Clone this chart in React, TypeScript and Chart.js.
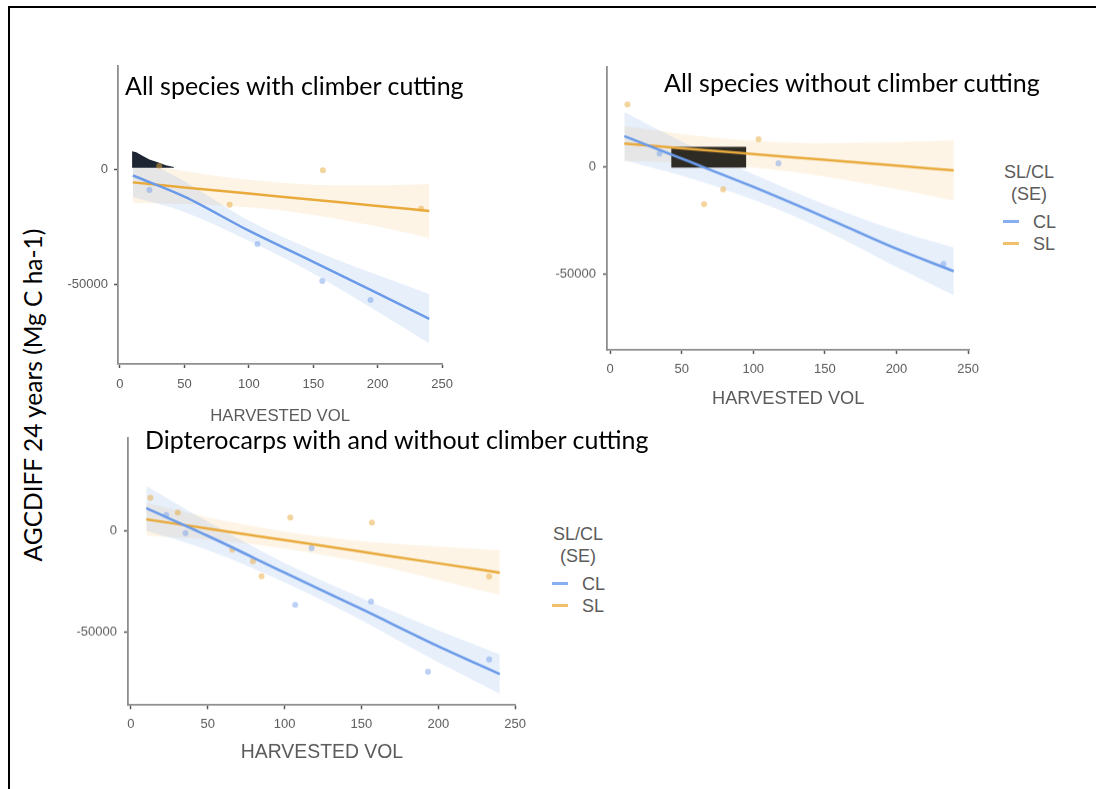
import React, { useEffect, useRef } from 'react';
import { Chart, registerables } from 'chart.js';
Chart.register(...registerables);

// ---------- shared ----------
const FIT_X = [10, 50, 100, 150, 200, 240];
const X_TICKS = [0, 50, 100, 150, 200, 250];
const Y_TICKS = [0, -50000];
const X_TITLE = 'HARVESTED VOL';
const Y_TITLE = 'AGCDIFF 24 years (Mg C ha-1)';
const LEGEND_TITLE = ['SL/CL', '(SE)'];
const LEGEND_ITEMS = ['CL', 'SL'];

// ---------- Panel A: All species with climber cutting ----------
const A_TITLE = 'All species with climber cutting';
const A_CL_X = [22.9, 106.7, 157, 194.4];
const A_CL_Y = [-8900, -32500, -48700, -57000];
const A_SL_X = [30.5, 85.1, 157.5, 233.7];
const A_SL_Y = [1600, -15400, -300, -17100];
const A_CL_FIT = [-2600, -11800, -26700, -40300, -54100, -65200];
const A_CL_UP = [6800, -5100, -22300, -35200, -46100, -54400];
const A_CL_LO = [-12000, -18500, -31100, -45400, -62100, -76000];
const A_SL_FIT = [-5600, -7800, -10500, -13200, -15900, -18100];
const A_SL_UP = [3400, -600, -4500, -6600, -6900, -6300];
const A_SL_LO = [-14600, -15000, -16500, -19800, -24900, -29900];
const A_MASK_X = [9.4, 12.7, 17.8, 22.9, 30.5, 35.6, 41.9];
const A_MASK_Y = [8000, 7600, 5900, 4400, 3000, 1900, 1100];
const A_MASK_BASE = 800;

// ---------- Panel B: All species without climber cutting ----------
const B_TITLE = 'All species without climber cutting';
const B_CL_X = [34.6, 117.6, 232.8];
const B_CL_Y = [6100, 1500, -45400];
const B_SL_X = [12.2, 65.7, 79, 103.7];
const B_SL_Y = [29000, -17600, -10700, 12700];
const B_CL_FIT = [14200, 3700, -9500, -23700, -38400, -48900];
const B_CL_UP = [25500, 11700, -3500, -17700, -29900, -37800];
const B_CL_LO = [2900, -4300, -15500, -29700, -46900, -60000];
const B_SL_FIT = [10700, 8500, 5800, 3100, 400, -1800];
const B_SL_UP = [18900, 15200, 12000, 10900, 11400, 12300];
const B_SL_LO = [2500, 1800, -400, -4700, -10600, -15900];
const B_MASK_X = [42.7, 95.2];
const B_MASK_Y = [9200, 9200];
const B_MASK_BASE = -500;

// ---------- Panel C: Dipterocarps ----------
const C_TITLE = 'Dipterocarps with and without climber cutting';
const C_CL_X = [23, 35.5, 106.9, 117.6, 156.3, 193.3, 233.1];
const C_CL_Y = [7600, -1300, -36500, -8600, -34900, -69400, -63400];
const C_SL_X = [12.7, 30.5, 66, 79.4, 85, 103.7, 156.8, 233.1];
const C_SL_Y = [16100, 8900, -9400, -15000, -22400, 6400, 3900, -22600];
const C_CL_FIT = [11000, -2600, -20700, -38600, -56900, -70600];
const C_CL_UP = [22000, 4400, -15900, -33100, -49100, -60900];
const C_CL_LO = [0, -9600, -25500, -44100, -64800, -80300];
const C_SL_FIT = [5500, 1000, -4700, -10400, -16100, -20700];
const C_SL_UP = [13500, 6500, -500, -5200, -7900, -9700];
const C_SL_LO = [-2500, -4500, -8900, -15600, -24300, -31700];

// ---------- styles ----------
const BLUE = '#6a9ae8';
const ORANGE = '#e9aa3c';
const BLUE_BAND = 'rgba(106,154,232,0.16)';
const ORANGE_BAND = 'rgba(240,178,78,0.15)';
const BLUE_PT = 'rgba(106,154,232,0.45)';
const ORANGE_PT = 'rgba(233,170,60,0.5)';
const AXIS_TEXT = '#5b5b5b';
const TICK_FONT = 'Liberation Sans, Arial, sans-serif';
const TITLE_FONT = 'Lato, "Open Sans", sans-serif';

const pts = (xs: number[], ys: number[]) => xs.map((x, i) => ({ x, y: ys[i] }));

type PanelData = {
  clX: number[]; clY: number[]; slX: number[]; slY: number[];
  clFit: number[]; clUp: number[]; clLo: number[];
  slFit: number[]; slUp: number[]; slLo: number[];
  maskX?: number[]; maskY?: number[]; maskBase?: number; maskColor?: string;
};
type Layout = {
  L: number; R: number; T: number; B: number;
  xMin: number; xMax: number; yMin: number; yMax: number;
  xTickPad: number; yTickPad: number; titleCenter: number; titleSize: number;
};

const WY = 60;
const PAD_TOP = 10;
const PAD_RIGHT = 14;

function Panel({ d, lay }: { d: PanelData; lay: Layout }) {
  const ref = useRef<HTMLCanvasElement>(null);
  const lh = lay.titleSize * 1.2;
  const hx = lay.titleCenter - lay.B + 2 + lh / 2;
  const w = WY + (lay.R - lay.L) + PAD_RIGHT;
  const h = PAD_TOP + (lay.B - lay.T) + hx;
  const left = lay.L - WY;
  const top = lay.T - PAD_TOP;

  useEffect(() => {
    const line = (data: number[], color: string) => ({
      data: pts(FIT_X, data), showLine: true, borderColor: color, borderWidth: 2.5,
      pointRadius: 0, fill: false, cubicInterpolationMode: 'monotone', order: 1,
    });
    const scatter = (xs: number[], ys: number[], color: string) => ({
      data: pts(xs, ys), showLine: false, pointRadius: 3, pointBorderWidth: 0,
      backgroundColor: color, borderColor: color, order: 2,
    });
    const bandUp = (data: number[]) => ({
      data: pts(FIT_X, data), showLine: true, borderWidth: 0, borderColor: 'rgba(0,0,0,0)',
      pointRadius: 0, fill: false, cubicInterpolationMode: 'monotone', order: 4,
    });
    const bandLo = (data: number[], color: string) => ({
      data: pts(FIT_X, data), showLine: true, borderWidth: 0, borderColor: 'rgba(0,0,0,0)',
      pointRadius: 0, fill: '-1', backgroundColor: color, cubicInterpolationMode: 'monotone', order: 4,
    });
    const datasets: any[] = [
      line(d.clFit, BLUE),
      line(d.slFit, ORANGE),
      scatter(d.clX, d.clY, BLUE_PT),
      scatter(d.slX, d.slY, ORANGE_PT),
      bandUp(d.clUp),
      bandLo(d.clLo, BLUE_BAND),
      bandUp(d.slUp),
      bandLo(d.slLo, ORANGE_BAND),
    ];
    if (d.maskX && d.maskY) {
      datasets.push({
        data: pts(d.maskX, d.maskY), showLine: true, borderWidth: 0, borderColor: 'rgba(0,0,0,0)',
        pointRadius: 0, fill: { value: d.maskBase }, backgroundColor: d.maskColor, order: 3,
      });
    }
    const axisCommon = {
      type: 'linear',
      grid: { display: true, drawOnChartArea: false, drawTicks: true, tickLength: 4, tickColor: '#555', tickWidth: 1.5 },
      border: { display: true, color: '#8e8e8e', width: 1.8 },
    };
    const chart = new Chart(ref.current as HTMLCanvasElement, {
      type: 'scatter',
      data: { datasets },
      options: {
        animation: false,
        responsive: false,
        devicePixelRatio: 1,
        layout: { padding: { top: PAD_TOP, right: PAD_RIGHT, left: 0, bottom: 0 } },
        plugins: { legend: { display: false }, tooltip: { enabled: false } },
        scales: {
          x: {
            ...axisCommon,
            min: lay.xMin, max: lay.xMax,
            afterBuildTicks: (s: any) => { s.ticks = X_TICKS.map((v) => ({ value: v })); },
            afterFit: (s: any) => { s.height = hx; },
            ticks: { font: { family: TICK_FONT, size: 13 }, color: AXIS_TEXT, padding: lay.xTickPad, maxRotation: 0, autoSkip: false, callback: (v: any) => String(v) },
            title: { display: true, text: X_TITLE, color: AXIS_TEXT, font: { family: TICK_FONT, size: lay.titleSize }, padding: { top: 0, bottom: 2 } },
          },
          y: {
            ...axisCommon,
            min: lay.yMin, max: lay.yMax,
            afterBuildTicks: (s: any) => { s.ticks = Y_TICKS.map((v) => ({ value: v })); },
            afterFit: (s: any) => { s.width = WY; },
            ticks: { font: { family: TICK_FONT, size: 13 }, color: AXIS_TEXT, padding: lay.yTickPad, autoSkip: false, callback: (v: any) => String(v) },
          },
        },
      } as any,
    } as any);
    return () => chart.destroy();
  }, []);

  return (
    <canvas ref={ref} width={w} height={h}
      style={{ position: 'absolute', left, top, width: w, height: h }} />
  );
}

function Legend({ left, cy }: { left: number; cy: number }) {
  const txt: React.CSSProperties = {
    position: 'absolute', fontFamily: TICK_FONT, fontSize: 18, color: AXIS_TEXT,
    lineHeight: '22px', height: 22, whiteSpace: 'nowrap',
  };
  return (
    <>
      <div style={{ ...txt, left: left + 26 - 40, width: 80, textAlign: 'center', top: cy - 11 }}>{LEGEND_TITLE[0]}</div>
      <div style={{ ...txt, left: left + 26 - 40, width: 80, textAlign: 'center', top: cy + 11 }}>{LEGEND_TITLE[1]}</div>
      <div style={{ position: 'absolute', left, top: cy + 48, width: 16, height: 3, background: '#86aef0' }} />
      <div style={{ ...txt, left: left + 30, top: cy + 39 }}>{LEGEND_ITEMS[0]}</div>
      <div style={{ position: 'absolute', left, top: cy + 70, width: 16, height: 3, background: '#f0c06a' }} />
      <div style={{ ...txt, left: left + 30, top: cy + 61 }}>{LEGEND_ITEMS[1]}</div>
    </>
  );
}

const PANEL_A: PanelData = {
  clX: A_CL_X, clY: A_CL_Y, slX: A_SL_X, slY: A_SL_Y,
  clFit: A_CL_FIT, clUp: A_CL_UP, clLo: A_CL_LO, slFit: A_SL_FIT, slUp: A_SL_UP, slLo: A_SL_LO,
  maskX: A_MASK_X, maskY: A_MASK_Y, maskBase: A_MASK_BASE, maskColor: '#1f2633',
};
const PANEL_B: PanelData = {
  clX: B_CL_X, clY: B_CL_Y, slX: B_SL_X, slY: B_SL_Y,
  clFit: B_CL_FIT, clUp: B_CL_UP, clLo: B_CL_LO, slFit: B_SL_FIT, slUp: B_SL_UP, slLo: B_SL_LO,
  maskX: B_MASK_X, maskY: B_MASK_Y, maskBase: B_MASK_BASE, maskColor: '#2e2a24',
};
const PANEL_C: PanelData = {
  clX: C_CL_X, clY: C_CL_Y, slX: C_SL_X, slY: C_SL_Y,
  clFit: C_CL_FIT, clUp: C_CL_UP, clLo: C_CL_LO, slFit: C_SL_FIT, slUp: C_SL_UP, slLo: C_SL_LO,
};

const LAY_A: Layout = { L: 118, R: 448, T: 62, B: 364, xMin: -1.5, xMax: 250, yMin: -84900, yMax: 45300, xTickPad: 9, yTickPad: 6, titleCenter: 416, titleSize: 16.7 };
const LAY_B: Layout = { L: 607, R: 973, T: 62, B: 350, xMin: -2.1, xMax: 250.9, yMin: -85600, yMax: 46500, xTickPad: 8, yTickPad: 7, titleCenter: 399, titleSize: 18.2 };
const LAY_C: Layout = { L: 128, R: 519, T: 433, B: 705, xMin: -1.9, xMax: 250.5, yMin: -85900, yMax: 45600, xTickPad: 7, yTickPad: 7, titleCenter: 752, titleSize: 19.4 };

export default function App() {
  const titleStyle: React.CSSProperties = {
    position: 'absolute', fontFamily: TITLE_FONT, fontSize: 25, lineHeight: 1, color: '#000', whiteSpace: 'nowrap',
  };
  return (
    <div style={{ position: 'absolute', left: 0, top: 0, width: 1096, height: 789, overflow: 'hidden', background: '#fff' }}>
      <div style={{ position: 'absolute', left: 8, top: 6, width: 1090, height: 790, borderTop: '2px solid #000', borderLeft: '2px solid #000' }} />
      <Panel d={PANEL_A} lay={LAY_A} />
      <Panel d={PANEL_B} lay={LAY_B} />
      <Panel d={PANEL_C} lay={LAY_C} />
      <div style={{ ...titleStyle, left: 125, top: 73 }}>{A_TITLE}</div>
      <div style={{ ...titleStyle, left: 664, top: 70 }}>{B_TITLE}</div>
      <div style={{ ...titleStyle, left: 145, top: 427 }}>{C_TITLE}</div>
      <div style={{
        position: 'absolute', left: 33 - 220, top: 395 - 14, width: 440, height: 28, lineHeight: '28px',
        textAlign: 'center', transform: 'rotate(-90deg)', fontFamily: TITLE_FONT, fontSize: 24.5, color: '#000', whiteSpace: 'nowrap',
      }}>{Y_TITLE}</div>
      <Legend left={1003} cy={172} />
      <Legend left={552} cy={534} />
    </div>
  );
}
